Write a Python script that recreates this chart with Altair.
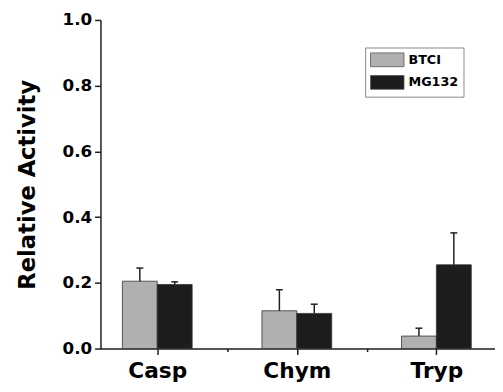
import altair as alt
import pandas as pd

categories = ["Casp", "Chym", "Tryp"]
series_names = ["BTCI", "MG132"]
btci = [0.205, 0.115, 0.038]
btci_err = [0.040, 0.064, 0.024]
mg132 = [0.195, 0.107, 0.255]
mg132_err = [0.008, 0.028, 0.097]
y_ticks = [0.0, 0.1, 0.2, 0.3, 0.4, 0.5, 0.6, 0.7, 0.8, 0.9, 1.0]
x_ticks = [1, 1.5, 2, 2.5, 3]

rows = []
for i, cat in enumerate(categories):
    pos = i + 1
    rows.append({"cat": cat, "series": "BTCI", "x0": pos - 0.25, "x1": pos,
                 "xc": pos - 0.125, "value": btci[i], "top": btci[i] + btci_err[i]})
    rows.append({"cat": cat, "series": "MG132", "x0": pos, "x1": pos + 0.25,
                 "xc": pos + 0.125, "value": mg132[i], "top": mg132[i] + mg132_err[i]})
df = pd.DataFrame(rows)

FONT = "DejaVu Sans"
INK = "#1e1e1e"
cat_js = "[" + ",".join("'" + c + "'" for c in categories) + "]"

xscale = alt.Scale(domain=[0.593, 3.42], nice=False, zero=False)
yscale = alt.Scale(domain=[0, 1], nice=False)

xaxis = alt.Axis(
    values=x_ticks, title=None, grid=False,
    labelExpr="datum.value % 1 == 0 ? " + cat_js + "[datum.value - 1] : ''",
    labelFont=FONT, labelFontSize=22, labelFontWeight="bold", labelColor="#000",
    labelPadding=6, labelOverlap=False, labelFlush=False,
    tickSize={"condition": {"test": "datum.value % 1 != 0", "value": 3}, "value": 6},
    tickColor=INK, tickWidth=1.5, domainColor=INK, domainWidth=1.5,
)
yaxis = alt.Axis(
    values=y_ticks, title="Relative  Activity", grid=False,
    labelExpr="round(datum.value * 10) % 2 == 0 ? format(datum.value, '.1f') : ''",
    labelFont=FONT, labelFontSize=17, labelFontWeight="bold", labelColor="#000",
    labelPadding=3, labelOverlap=False, labelFlush=False,
    tickSize={"condition": {"test": "round(datum.value * 10) % 2 == 1", "value": 4}, "value": 6},
    tickColor=INK, tickWidth=1.5, domainColor=INK, domainWidth=1.5,
    titleFont=FONT, titleFontSize=23, titleFontWeight="bold", titleColor="#000",
    titlePadding=23,
)

color = alt.Color(
    "series:N",
    scale=alt.Scale(domain=series_names, range=["#b0b0b0", "#1c1c1c"]),
    legend=alt.Legend(
        title=None, orient="none", legendX=269, legendY=28,
        symbolType="M-1,-1H3.86V1H-1Z", symbolSize=196,
        symbolStrokeColor="#555", symbolStrokeWidth=0.8,
        labelFont=FONT, labelFontSize=13, labelFontWeight="bold", labelColor="#000",
        labelOffset=24, rowPadding=4,
        strokeColor="#888", padding=5, fillColor="white",
    ),
)

bars = alt.Chart(df).mark_bar(stroke="#333", strokeWidth=0.8).encode(
    x=alt.X("x0:Q", scale=xscale, axis=xaxis),
    x2="x1:Q",
    y=alt.Y("value:Q", scale=yscale, axis=yaxis),
    y2=alt.datum(0),
    color=color,
)
err = alt.Chart(df).mark_rule(color=INK, strokeWidth=1.5).encode(
    x="xc:Q", y="value:Q", y2="top:Q"
)
caps = alt.Chart(df).mark_rule(color=INK, strokeWidth=1.5, xOffset=-3.5, x2Offset=3.5).encode(
    x="xc:Q", x2="xc:Q", y="top:Q"
)

chart = alt.layer(bars, err, caps).properties(
    width=401, height=334,
    autosize=alt.AutoSizeParams(type="none"),
    padding={"left": 94, "top": 9, "right": 0, "bottom": 41},
    background="white",
).configure_view(stroke=None)

chart.save("out.html", embed_options={"renderer": "svg", "actions": False})
